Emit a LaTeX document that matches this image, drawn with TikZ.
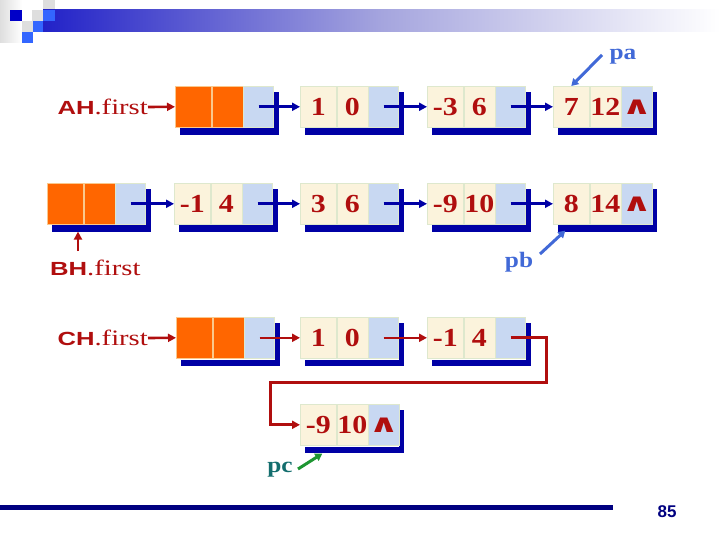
\documentclass[tikz,border=0pt]{standalone}
\usepackage{fontspec}
\setmainfont{Liberation Serif}
\newfontfamily\arialf{Liberation Sans}
\newfontfamily\dejavu{DejaVu Sans}
\usetikzlibrary{arrows.meta,calc}
\definecolor{dred}{RGB}{176,14,14}
\definecolor{shad}{RGB}{0,0,165}
\definecolor{beige}{RGB}{251,243,220}
\definecolor{bluecell}{RGB}{200,216,242}
\definecolor{orng}{RGB}{255,102,0}
\definecolor{orngline}{RGB}{250,200,140}
\definecolor{cellline}{RGB}{222,232,205}
\definecolor{pblue}{RGB}{65,105,215}
\definecolor{pcteal}{RGB}{20,110,110}
\definecolor{pcgreen}{RGB}{30,150,50}
\definecolor{navy}{RGB}{0,0,128}
\definecolor{band1}{RGB}{34,34,200}
\definecolor{bandmid}{RGB}{165,165,222}
\definecolor{sqblue}{RGB}{51,102,255}
\definecolor{sqdark}{RGB}{0,0,200}
\definecolor{sqgray}{RGB}{222,222,222}
\newcommand\dg[1]{\scalebox{1.15}[1]{#1}}
\newcommand\lnode[7]{%
 \fill[shad] ({#2+5},{#3+6}) rectangle ({#2+104},{#3+49});
 \fill[white] ({#2-1.5},{#3-1.5}) rectangle ({#2+98.5},{#3+42.5});
 \node[#4, anchor=north west, minimum width=36pt] (#1a) at (#2,#3) {\dg{#5}};
 \node[#4, anchor=west, minimum width=31pt] (#1b) at (#1a.east) {\dg{#6}};
 \node[bcellst, anchor=west, minimum width=30pt] (#1c) at (#1b.east) {#7};
}
\newcommand\nil{\scalebox{1.5}[1]{\dejavu\bfseries\fontsize{25}{25}\selectfont ∧}}
\newcommand\hd[1]{\scalebox{1.35}[1]{\arialf\bfseries\fontsize{19}{19}\selectfont #1}\scalebox{1.3}[1]{\fontsize{22}{22}\selectfont .first}}
\begin{document}
\begin{tikzpicture}[x=1pt,y=-1pt,
 cellbase/.style={rectangle, inner sep=0pt, minimum height=41pt, draw=cellline, line width=0.6pt, text=dred, font=\bfseries\fontsize{26}{26}\selectfont},
 beigecell/.style={cellbase, fill=beige},
 orangecell/.style={cellbase, fill=orng, draw=orngline},
 bcellst/.style={cellbase, fill=bluecell},
 bluearr/.style={draw=shad, line width=3pt, -{Triangle[length=8pt,width=8pt]}},
 redarr/.style={draw=dred, line width=2.6pt, -{Triangle[length=8pt,width=8pt]}},
 lab/.style={text=dred, inner sep=0pt},
 ptr/.style={font=\bfseries\fontsize{22}{22}\selectfont, inner sep=0pt}
]
\useasboundingbox (0,0) rectangle (720,540);
% header decoration
\shade[left color=sqgray, right color=white] (0,0) rectangle (22,43);
\fill[sqgray] (43,0) rectangle (55,10);
\fill[sqgray] (32,10) rectangle (43,21);
\fill[sqgray] (22,21) rectangle (33,32);
\shade[left color=band1, right color=white, middle color=bandmid] (43,10) rectangle (720,32);
\fill[sqdark] (10,10) rectangle (22,21);
\fill[sqblue] (43,10) rectangle (55,21);
\fill[sqblue] (33,21) rectangle (43,32);
\fill[sqblue] (22,32) rectangle (33,43);
% bottom rule and page number
\fill[navy] (0,505) rectangle (613,510);
\node[font=\arialf\bfseries\fontsize{17}{17}\selectfont, text=navy, inner sep=0pt] (pg) at (667,512) {85};
% list nodes
\lnode{r1h}{175}{86}{orangecell}{}{}{}
\lnode{r1a}{300}{86}{beigecell}{1}{0}{}
\lnode{r1b}{427}{86}{beigecell}{-3}{6}{}
\lnode{r1c}{553}{86}{beigecell}{7}{12}{\nil}
\lnode{r2h}{47}{183}{orangecell}{}{}{}
\lnode{r2a}{174}{183}{beigecell}{-1}{4}{}
\lnode{r2b}{300}{183}{beigecell}{3}{6}{}
\lnode{r2c}{427}{183}{beigecell}{-9}{10}{}
\lnode{r2d}{553}{183}{beigecell}{8}{14}{\nil}
\lnode{r3h}{176}{317}{orangecell}{}{}{}
\lnode{r3a}{300}{317}{beigecell}{1}{0}{}
\lnode{r3b}{427}{317}{beigecell}{-1}{4}{}
\lnode{r4}{300}{404}{beigecell}{-9}{10}{\nil}
% labels
\node[lab, anchor=east] (AH) at (148,107) {\hd{AH}};
\node[lab, anchor=west] (BH) at (50,268) {\hd{BH}};
\node[lab, anchor=east] (CH) at (148,338) {\hd{CH}};
\node[ptr, text=pblue] (pa) at (623,57) {\dg{pa}};
\node[ptr, text=pblue] (pb) at (519,262) {\dg{pb}};
\node[ptr, text=pcteal] (pc) at (280,470) {\dg{pc}};
\coordinate (bhtail) at (78,251);
\coordinate (patail) at (602,55);
\coordinate (pbtail) at (540,254);
\coordinate (pctail) at (298,469);
% blue links
\draw[bluearr] (r1hc.center) -- (r1aa.west);
\draw[bluearr] (r1ac.center) -- (r1ba.west);
\draw[bluearr] (r1bc.center) -- (r1ca.west);
\draw[bluearr] (r2hc.center) -- (r2aa.west);
\draw[bluearr] (r2ac.center) -- (r2ba.west);
\draw[bluearr] (r2bc.center) -- (r2ca.west);
\draw[bluearr] (r2cc.center) -- (r2da.west);
% red links
\draw[redarr] (AH.east) -- (r1ha.west);
\draw[redarr] (CH.east) -- (r3ha.west);
\draw[redarr] (bhtail) -- ([yshift=-7pt]r2ha.south -| bhtail);
\draw[redarr] (r3hc.center) -- (r3aa.west);
\draw[redarr] (r3ac.center) -- (r3ba.west);
\draw[redarr, line width=3pt] (r3bc.center) -- ++(36,0) -- ++(0,45) -| ([xshift=-30pt]r4a.west) -- (r4a.west);
% pointers
\draw[draw=pblue, line width=3pt, -{Triangle[length=7pt,width=8pt]}] (patail) -- (r1ca.north);
\draw[draw=pblue, line width=3pt, -{Triangle[length=7pt,width=8pt]}] (pbtail) -- ([xshift=-6pt,yshift=-6pt]r2da.south);
\draw[draw=pcgreen, line width=3pt, -{Triangle[length=7pt,width=8pt]}] (pctail) -- ([xshift=4pt,yshift=-8pt]r4a.south);
\end{tikzpicture}
\end{document}
